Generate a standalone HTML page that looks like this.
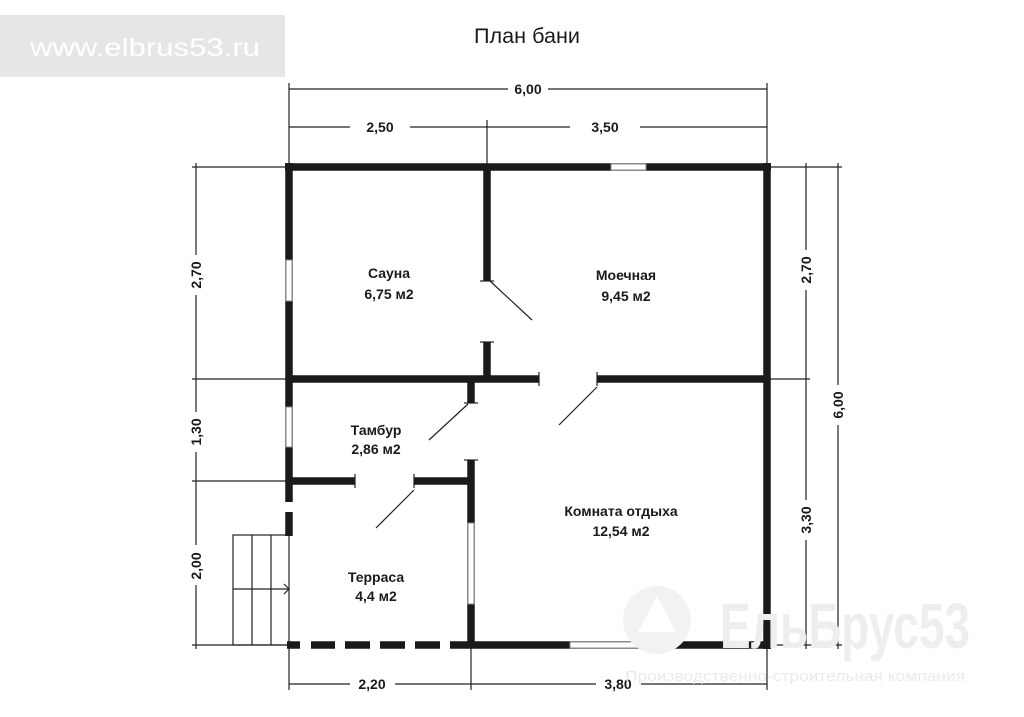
<!DOCTYPE html>
<html><head><meta charset="utf-8"><style>
html,body{margin:0;padding:0;background:#fff;width:1024px;height:717px;overflow:hidden}
svg text{font-family:"Liberation Sans Narrow","Liberation Sans",sans-serif;fill:#1a1a1a}
</style></head><body>
<svg width="1024" height="717" viewBox="0 0 1024 717" xmlns="http://www.w3.org/2000/svg">
<rect x="0" y="15" width="285" height="62" fill="#e6e6e6"/>
<text x="145" y="56" font-size="25" text-anchor="middle" style="fill:#fff" textLength="230" lengthAdjust="spacingAndGlyphs">www.elbrus53.ru</text>
<text x="527" y="43" font-size="21" text-anchor="middle" textLength="106" lengthAdjust="spacingAndGlyphs">План бани</text>

<g stroke="#222" stroke-width="1.2" fill="none">
<line x1="289" y1="89" x2="767" y2="89"/>
<line x1="289" y1="83" x2="289" y2="167"/><line x1="767" y1="83" x2="767" y2="167"/>
<line x1="289" y1="127" x2="767" y2="127"/>
<line x1="487" y1="120" x2="487" y2="167"/>
<line x1="196" y1="163" x2="196" y2="649"/>
<line x1="192" y1="167" x2="289" y2="167"/>
<line x1="192" y1="379" x2="289" y2="379"/>
<line x1="192" y1="481" x2="289" y2="481"/>
<line x1="192" y1="645" x2="289" y2="645"/>
<line x1="806" y1="163" x2="806" y2="649"/>
<line x1="838" y1="163" x2="838" y2="649"/>
<line x1="767" y1="167" x2="842" y2="167"/>
<line x1="767" y1="379" x2="810" y2="379"/>
<line x1="767" y1="645" x2="842" y2="645"/>
<line x1="289" y1="684" x2="767" y2="684"/>
<line x1="289" y1="645" x2="289" y2="690"/>
<line x1="471" y1="645" x2="471" y2="690"/>
<line x1="767" y1="645" x2="767" y2="690"/>
<line x1="490" y1="281" x2="532" y2="320"/>
<line x1="468" y1="404" x2="429" y2="440"/>
<line x1="597" y1="387" x2="559" y2="425"/>
<line x1="414" y1="490" x2="376" y2="528"/>
<rect x="233" y="535" width="56" height="110"/>
<line x1="252" y1="535" x2="252" y2="645"/><line x1="271" y1="535" x2="271" y2="645"/>
<line x1="233" y1="589" x2="289" y2="589"/>
<polyline points="284,584 289,589 284,594"/>
<line x1="480" y1="281" x2="494" y2="281"/>
<line x1="480" y1="342" x2="494" y2="342"/>
<line x1="539" y1="372" x2="539" y2="386"/>
<line x1="597" y1="372" x2="597" y2="386"/>
<line x1="464" y1="403" x2="478" y2="403"/>
<line x1="355" y1="474" x2="355" y2="488"/>
<line x1="414" y1="474" x2="414" y2="488"/>
<line x1="464" y1="460" x2="478" y2="460"/>
</g>
<g fill="#fff">
<rect x="508" y="80" width="40" height="18"/>
<rect x="350" y="118" width="60" height="18"/><rect x="570" y="118" width="70" height="18"/>
<rect x="187" y="255" width="18" height="40"/><rect x="187" y="412" width="18" height="40"/><rect x="187" y="545" width="18" height="40"/>
<rect x="797" y="250" width="18" height="40"/><rect x="797" y="500" width="18" height="40"/><rect x="829" y="385" width="18" height="40"/>
<rect x="350" y="675" width="45" height="18"/><rect x="596" y="675" width="45" height="18"/>
</g>
<g stroke="#1a1a1a" fill="none" stroke-width="7.5">
<line x1="285" y1="167" x2="771" y2="167"/>
<line x1="767" y1="163" x2="767" y2="649"/>
<line x1="289" y1="163" x2="289" y2="502"/>
<line x1="289" y1="512" x2="289" y2="536"/>
<line x1="471" y1="645" x2="771" y2="645"/>
<line x1="487" y1="167" x2="487" y2="281"/>
<line x1="487" y1="342" x2="487" y2="382"/>
<line x1="289" y1="379" x2="539" y2="379"/>
<line x1="597" y1="379" x2="767" y2="379"/>
<line x1="471" y1="379" x2="471" y2="403"/>
<line x1="289" y1="481" x2="355" y2="481"/>
<line x1="414" y1="481" x2="474" y2="481"/>
<line x1="471" y1="460" x2="471" y2="648"/>
<line x1="287" y1="645" x2="300" y2="645"/>
<line x1="311" y1="645" x2="335" y2="645"/>
<line x1="345" y1="645" x2="370" y2="645"/>
<line x1="380" y1="645" x2="405" y2="645"/>
<line x1="415" y1="645" x2="440" y2="645"/>
<line x1="450" y1="645" x2="471" y2="645"/>
</g>
<g fill="#fff" stroke="#888" stroke-width="1">
<rect x="611" y="164" width="35" height="6"/>
<rect x="286" y="260" width="6" height="41"/>
<rect x="286" y="407" width="6" height="40"/>
<rect x="468" y="523" width="6" height="81"/>
<rect x="570" y="642" width="98" height="6"/>
</g>
<g font-size="14" text-anchor="middle" font-weight="bold">
<text x="528" y="94">6,00</text>
<text x="380" y="132">2,50</text>
<text x="605" y="132">3,50</text>
<text x="372" y="689">2,20</text>
<text x="618" y="689">3,80</text>
<text transform="translate(201,275) rotate(-90)">2,70</text>
<text transform="translate(201,432) rotate(-90)">1,30</text>
<text transform="translate(201,566) rotate(-90)">2,00</text>
<text transform="translate(811,270) rotate(-90)">2,70</text>
<text transform="translate(811,520) rotate(-90)">3,30</text>
<text transform="translate(843,405) rotate(-90)">6,00</text>
<text x="389" y="278">Сауна</text><text x="389" y="299">6,75 м2</text>
<text x="626" y="280">Моечная</text><text x="626" y="301">9,45 м2</text>
<text x="376" y="435">Тамбур</text><text x="376" y="454">2,86 м2</text>
<text x="376" y="582">Терраса</text><text x="376" y="601">4,4 м2</text>
<text x="621" y="516">Комната отдыха</text><text x="621" y="536">12,54 м2</text>
</g>
<g>
<circle cx="657" cy="620" r="34" fill="#f2f2f2"/>
<polygon points="657,596 638,632 676,632" fill="#fff"/>
<text x="845" y="648" font-size="64" font-weight="bold" text-anchor="middle" style="fill:#eeeeee" textLength="250" lengthAdjust="spacingAndGlyphs">ЕльБрус53</text>
<text x="795" y="681" font-size="15" text-anchor="middle" style="fill:#eaeaea" textLength="340" lengthAdjust="spacingAndGlyphs">Производственно-строительная компания</text>
</g>
</svg>
</body></html>
